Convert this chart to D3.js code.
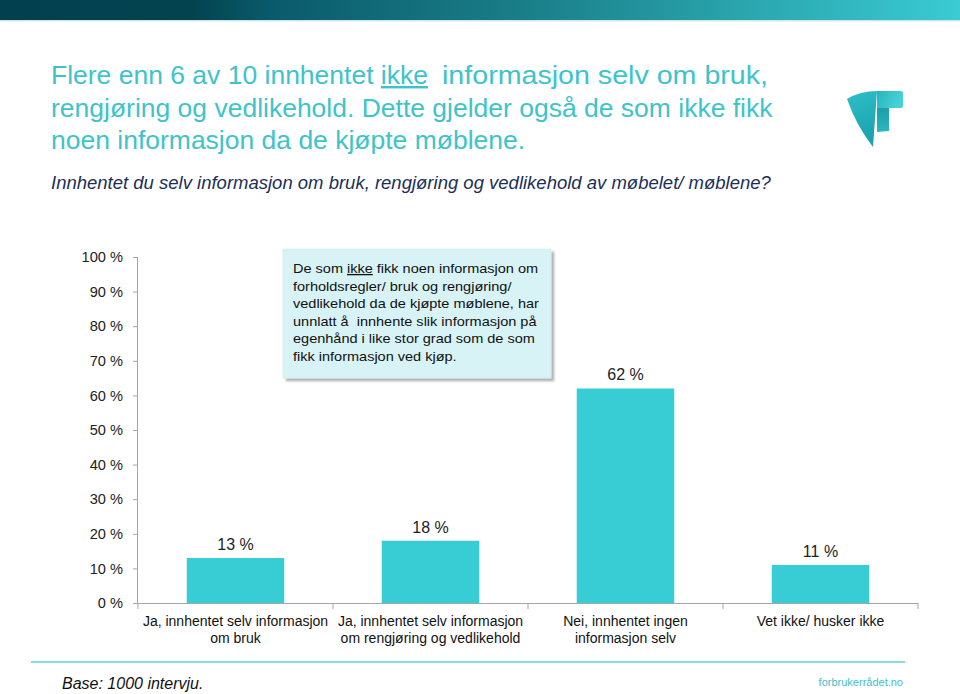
<!DOCTYPE html>
<html><head><meta charset="utf-8">
<script src="https://cdn.jsdelivr.net/npm/d3@7"></script>
<style>html,body{margin:0;padding:0;background:#fff}svg{display:block}text{white-space:pre}</style>
</head><body><svg id="c" width="960" height="694"></svg>
<script>
const categories = [
  ["Ja, innhentet selv informasjon", "om bruk"],
  ["Ja, innhentet selv informasjon", "om rengjøring og vedlikehold"],
  ["Nei, innhentet ingen", "informasjon selv"],
  ["Vet ikke/ husker ikke"]
];
const values = [13, 18, 62, 11];
const yTicks = [0, 10, 20, 30, 40, 50, 60, 70, 80, 90, 100];
const titleLines = [
  ["Flere enn 6 av 10 innhentet ", "ikke", "  informasjon selv om bruk,"],
  ["rengjøring og vedlikehold. Dette gjelder også de som ikke fikk"],
  ["noen informasjon da de kjøpte møblene."]
];
const subtitle = "Innhentet du selv informasjon om bruk, rengjøring og vedlikehold av møbelet/ møblene?";
const noteLines = [
  ["De som ", "ikke", " fikk noen informasjon om"],
  ["forholdsregler/ bruk og rengjøring/"],
  ["vedlikehold da de kjøpte møblene, har"],
  ["unnlatt å  innhente slik informasjon på"],
  ["egenhånd i like stor grad som de som"],
  ["fikk informasjon ved kjøp."]
];

const svg = d3.select("#c");
const font = "'Liberation Sans', Arial, sans-serif";
const defs = svg.append("defs");

// top gradient band
const tg = defs.append("linearGradient").attr("id","topg").attr("x1",0).attr("x2",1).attr("y1",0).attr("y2",0);
tg.append("stop").attr("offset","0%").attr("stop-color","#02404f");
tg.append("stop").attr("offset","20%").attr("stop-color","#03434f");
tg.append("stop").attr("offset","28%").attr("stop-color","#0a5a6b");
tg.append("stop").attr("offset","55%").attr("stop-color","#1a7f89");
tg.append("stop").attr("offset","100%").attr("stop-color","#3acbd3");
svg.append("rect").attr("x",0).attr("y",0).attr("width",960).attr("height",20).attr("fill","url(#topg)");
svg.append("rect").attr("x",0).attr("y",20).attr("width",960).attr("height",1.5).attr("fill","#cfe9e9");

// Title
titleLines.forEach((parts,i)=>{
  const yy = 84+i*32.5;
  if (parts.length === 3) {
    const t = svg.append("text").attr("x",0).attr("y",0)
      .attr("transform",`translate(51,${yy}) scale(1.06,1)`)
      .attr("font-family",font).attr("font-size",25).attr("fill","#3ec3cb");
    t.append("tspan").text(parts[0]);
    t.append("tspan").text(parts[1]).attr("text-decoration","underline");
    svg.append("text").attr("x",442).attr("y",yy).attr("textLength",326).attr("lengthAdjust","spacingAndGlyphs")
      .attr("font-family",font).attr("font-size",25).attr("fill","#3ec3cb").text(parts[2].trim());
  } else {
    svg.append("text").attr("x",0).attr("y",0)
      .attr("transform",`translate(51,${yy}) scale(1.06,1)`)
      .attr("font-family",font).attr("font-size",25).attr("fill","#3ec3cb").text(parts[0]);
  }
});
svg.append("text").attr("x",51).attr("y",189).attr("font-family",font).attr("font-size",18.5)
  .attr("font-style","italic").attr("fill","#1b2f55").text(subtitle);

// Logo
const lg1 = defs.append("linearGradient").attr("id","lg1").attr("x1",0).attr("x2",0.3).attr("y1",0).attr("y2",1);
lg1.append("stop").attr("offset","0%").attr("stop-color","#2fc0c8");
lg1.append("stop").attr("offset","100%").attr("stop-color","#1aa2ae");
const lg2 = defs.append("linearGradient").attr("id","lg2").attr("x1",0).attr("x2",1).attr("y1",0).attr("y2",0.3);
lg2.append("stop").attr("offset","0%").attr("stop-color","#29b3bd");
lg2.append("stop").attr("offset","100%").attr("stop-color","#45d3d8");
const lg3 = defs.append("linearGradient").attr("id","lg3").attr("x1",0).attr("x2",0).attr("y1",0).attr("y2",1);
lg3.append("stop").attr("offset","0%").attr("stop-color","#1d9ea9");
lg3.append("stop").attr("offset","100%").attr("stop-color","#2bb7c0");
svg.append("path").attr("d","M847,99 Q860,91 877,91 L873,147 Q856,125 847,99 Z").attr("fill","url(#lg1)");
svg.append("path").attr("d","M877,91 L901,91 Q903,91 903,93 L903,106 Q903,108 901,108 L877,108 Z").attr("fill","url(#lg2)");
svg.append("path").attr("d","M877,108 L889,108 L889,131 L877,132 Z").attr("fill","url(#lg3)");

// Chart
const x0 = 138, x1 = 918, yBase = 603, yTop = 257;
const x = d3.scaleBand().domain(d3.range(categories.length)).range([x0, x1]).paddingInner(0.5).paddingOuter(0.25);
const xb = d3.scaleBand().domain(d3.range(categories.length)).range([x0, x1]);
const y = d3.scaleLinear().domain([0,100]).range([yBase, yTop]);

const gy = svg.append("g").attr("transform",`translate(${x0},0)`)
  .call(d3.axisLeft(y).tickValues(yTicks).tickSize(5).tickPadding(10).tickFormat(d=>d+" %"));
gy.select(".domain").attr("stroke","#a6a6a6").attr("d",`M-0.5,${yTop}V${yBase}`);
gy.selectAll(".tick line").attr("stroke","#a6a6a6");
gy.selectAll(".tick text").attr("font-family",font).attr("font-size",14.6).attr("fill","#222");

// x axis line with boundary ticks
svg.append("line").attr("x1",x0).attr("x2",x1).attr("y1",yBase+0.5).attr("y2",yBase+0.5).attr("stroke","#a6a6a6");
svg.selectAll(".xt").data(d3.range(categories.length+1)).enter().append("line")
  .attr("x1",i=> i<categories.length ? xb(i) : x1).attr("x2",i=> i<categories.length ? xb(i) : x1)
  .attr("y1",yBase).attr("y2",yBase+6).attr("stroke","#a6a6a6");

svg.selectAll(".bar").data(values).enter().append("rect")
  .attr("x",(d,i)=>x(i)).attr("width",x.bandwidth())
  .attr("y",d=>y(d)).attr("height",d=>yBase-y(d)).attr("fill","#38ccd5");

svg.selectAll(".vl").data(values).enter().append("text")
  .attr("x",(d,i)=>x(i)+x.bandwidth()/2).attr("y",d=>y(d)-8)
  .attr("text-anchor","middle").attr("font-family",font).attr("font-size",16).attr("fill","#222")
  .text(d=>d+" %");

categories.forEach((lines,i)=>{
  const t = svg.append("text").attr("text-anchor","middle").attr("font-family",font).attr("font-size",14).attr("fill","#111");
  lines.forEach((l,j)=>{
    t.append("tspan").attr("x",xb(i)+xb.bandwidth()/2).attr("y",626+j*16.5).text(l);
  });
});

// note box
const filt = defs.append("filter").attr("id","sh").attr("x","-10%").attr("y","-10%").attr("width","130%").attr("height","130%");
filt.append("feGaussianBlur").attr("in","SourceAlpha").attr("stdDeviation",1.2);
filt.append("feOffset").attr("dx",3).attr("dy",3).attr("result","ob");
filt.append("feComponentTransfer").append("feFuncA").attr("type","linear").attr("slope",0.3);
const fm = filt.append("feMerge"); fm.append("feMergeNode"); fm.append("feMergeNode").attr("in","SourceGraphic");
svg.append("rect").attr("x",283).attr("y",249).attr("width",268).attr("height",129)
  .attr("fill","#d8f3f6").attr("stroke","#c8e6ea").attr("stroke-width",0.5).attr("filter","url(#sh)");
noteLines.forEach((parts,i)=>{
  const t = svg.append("text").attr("x",0).attr("y",0)
    .attr("transform",`translate(293,${273+i*17.6}) scale(1.1,1)`)
    .attr("font-family",font).attr("font-size",13.2).attr("fill","#111");
  parts.forEach((p,j)=>{
    t.append("tspan").text(p).attr("text-decoration",(parts.length===3 && j===1)?"underline":null);
  });
});

// footer
svg.append("line").attr("x1",31).attr("x2",905).attr("y1",662).attr("y2",662).attr("stroke","#5fd3d6").attr("stroke-width",1.5);
svg.append("text").attr("x",62).attr("y",689).attr("font-family",font).attr("font-size",16).attr("font-style","italic").attr("fill","#111").text("Base: 1000 intervju.");
svg.append("text").attr("x",903).attr("y",686).attr("text-anchor","end").attr("font-family",font).attr("font-size",11).attr("fill","#3fc1c8").text("forbrukerrådet.no");
</script></body></html>
